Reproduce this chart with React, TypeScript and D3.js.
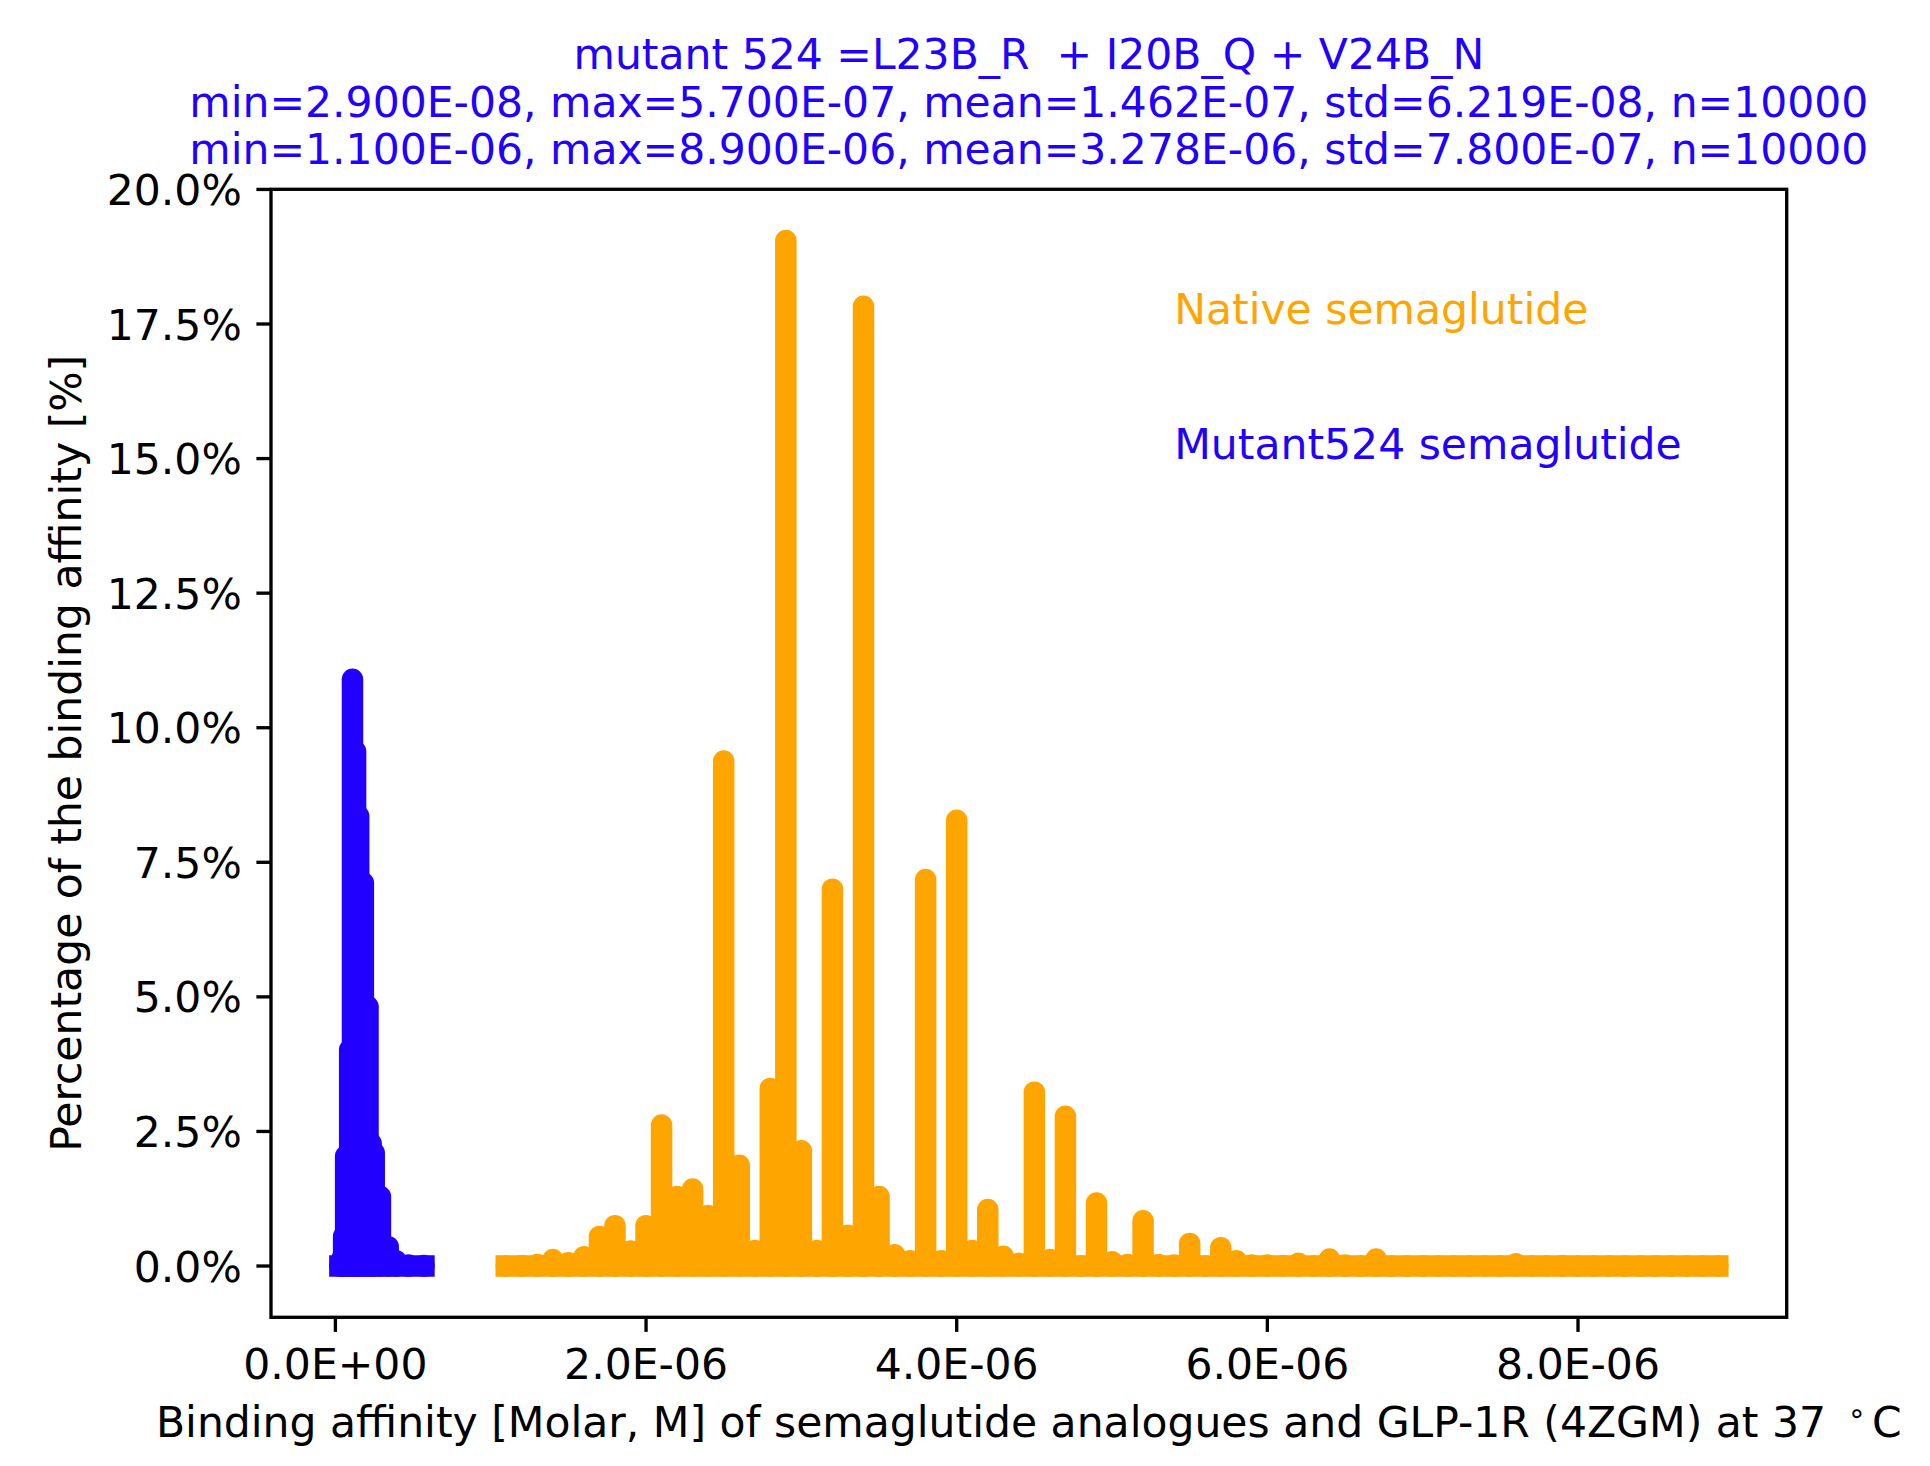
import React from "react";
import * as d3 from "d3";

// ---- data ----
// Mutant 524 semaglutide: binding affinity values [M] and share of samples [%]
const mutantAffinity = [
  2.9e-8, 4.5e-8, 5.3e-8, 6.6e-8, 9.2e-8, 1.1e-7, 1.3e-7, 1.5e-7, 1.8e-7,
  2.1e-7, 2.3e-7, 2.5e-7, 2.9e-7, 3.4e-7, 3.9e-7, 4.7e-7, 5.7e-7,
];
const mutantPercent = [
  0.0, 0.15, 0.55, 2.04, 4.02, 10.9, 9.56, 8.36, 7.12,
  4.82, 2.28, 2.1, 1.29, 0.36, 0.1, 0.02, 0.01,
];

// Native semaglutide
const nativeAffinity = [
  1.1e-6, 1.2e-6, 1.3e-6, 1.4e-6, 1.5e-6, 1.6e-6, 1.7e-6, 1.8e-6, 1.9e-6, 2.0e-6,
  2.1e-6, 2.2e-6, 2.3e-6, 2.4e-6, 2.5e-6, 2.6e-6, 2.7e-6, 2.8e-6, 2.9e-6, 3.0e-6,
  3.1e-6, 3.2e-6, 3.3e-6, 3.4e-6, 3.5e-6, 3.6e-6, 3.7e-6, 3.8e-6, 3.9e-6, 4.0e-6,
  4.1e-6, 4.2e-6, 4.3e-6, 4.4e-6, 4.5e-6, 4.6e-6, 4.7e-6, 4.8e-6, 4.9e-6, 5.0e-6,
  5.1e-6, 5.2e-6, 5.3e-6, 5.4e-6, 5.5e-6, 5.6e-6, 5.7e-6, 5.8e-6, 5.9e-6, 6.0e-6,
  6.1e-6, 6.2e-6, 6.3e-6, 6.4e-6, 6.5e-6, 6.6e-6, 6.7e-6, 6.8e-6, 6.9e-6, 7.0e-6,
  7.1e-6, 7.2e-6, 7.3e-6, 7.4e-6, 7.5e-6, 7.6e-6, 7.7e-6, 7.8e-6, 7.9e-6, 8.0e-6,
  8.1e-6, 8.2e-6, 8.3e-6, 8.4e-6, 8.5e-6, 8.6e-6, 8.7e-6, 8.8e-6, 8.9e-6,
];
const nativePercent = [
  0.0, 0.01, 0.03, 0.12, 0.06, 0.17, 0.55, 0.75, 0.28, 0.75,
  2.62, 1.29, 1.43, 0.94, 9.38, 1.87, 0.29, 3.3, 19.05, 2.14,
  0.29, 7.0, 0.57, 17.83, 1.29, 0.21, 0.1, 7.18, 0.1, 8.28,
  0.29, 1.05, 0.18, 0.05, 3.23, 0.12, 2.78, 0.0, 1.17, 0.08,
  0.03, 0.84, 0.03, 0.02, 0.42, 0.0, 0.34, 0.1, 0.02, 0.02,
  0.01, 0.05, 0.0, 0.13, 0.02, 0.0, 0.13, 0.0, 0.0, 0.0,
  0.0, 0.0, 0.0, 0.0, 0.0, 0.04, 0.0, 0.0, 0.01, 0.0,
  0.0, 0.0, 0.0, 0.0, 0.0, 0.0, 0.0, 0.0, 0.0,
];

const titleLines = [
  "mutant 524 =L23B_R  + I20B_Q + V24B_N",
  "min=2.900E-08, max=5.700E-07, mean=1.462E-07, std=6.219E-08, n=10000",
  "min=1.100E-06, max=8.900E-06, mean=3.278E-06, std=7.800E-07, n=10000",
];
const nativeLabel = "Native semaglutide";
const mutantLabel = "Mutant524 semaglutide";
const labelX = 5.4e-6;
const nativeLabelY = 17.5;
const mutantLabelY = 15.0;
const yTickValues = [0, 2.5, 5, 7.5, 10, 12.5, 15, 17.5, 20];

// ---- styling ----
const W = 1930;
const H = 1466;
const AX = { left: 271, right: 1786.7, top: 189.3, bottom: 1317.3 };
const FONT = "DejaVu Sans, Liberation Sans, sans-serif";
const FS = 42.5;
const ORANGE = "#ffa500";
const BLUE = "#2200ff";
const LW = 21.5;
const SPINE = 3.33;
const TICK = 14.6;
const PAD = 14.6;

function fmtE(v: number): string {
  if (v === 0) return "0.0E+00";
  const e = Math.floor(Math.log10(Math.abs(v)) + 1e-9);
  const m = v / Math.pow(10, e);
  const es = (e < 0 ? "-" : "+") + String(Math.abs(e)).padStart(2, "0");
  return m.toFixed(1) + "E" + es;
}

export default function App() {
  const allX = [...mutantAffinity, ...nativeAffinity];
  const [xmin, xmax] = d3.extent(allX) as [number, number];
  const xpad = 0.05 * (xmax - xmin);
  const x = d3
    .scaleLinear()
    .domain([xmin - xpad, xmax + xpad])
    .range([AX.left, AX.right]);

  const allY = [...mutantPercent, ...nativePercent];
  const [ymin, ymax] = d3.extent(allY) as [number, number];
  const ypad = 0.05 * (ymax - ymin);
  const y = d3
    .scaleLinear()
    .domain([ymin - ypad, ymax + ypad])
    .range([AX.bottom, AX.top]);

  const xTicks = x.ticks(5);
  const yFmt = (v: number) => d3.format(".1f")(v) + "%";
  const cx = (AX.left + AX.right) / 2;
  const cy = (AX.top + AX.bottom) / 2;

  const series = [
    { xs: nativeAffinity, ys: nativePercent, color: ORANGE, key: "native" },
    { xs: mutantAffinity, ys: mutantPercent, color: BLUE, key: "mutant" },
  ];

  return (
    <svg
      width={W}
      height={H}
      viewBox={`0 0 ${W} ${H}`}
      style={{ position: "absolute", left: 0, top: 0, background: "#fff" }}
      fontFamily={FONT}
    >
      <rect x={0} y={0} width={W} height={H} fill="#fff" />

      {/* series */}
      {series.map((s) => {
        const [lo, hi] = d3.extent(s.xs) as [number, number];
        return (
          <g key={s.key} stroke={s.color} strokeWidth={LW}>
            <line
              x1={x(lo)}
              x2={x(hi)}
              y1={y(0)}
              y2={y(0)}
              strokeLinecap="square"
            />
            {s.xs.map((xv, i) => (
              <line
                key={i}
                x1={x(xv)}
                x2={x(xv)}
                y1={y(0)}
                y2={y(s.ys[i]) - 0.01}
                strokeLinecap="round"
              />
            ))}
          </g>
        );
      })}

      {/* annotations */}
      <text x={x(labelX)} y={y(nativeLabelY)} fontSize={FS} fill={ORANGE}>
        {nativeLabel}
      </text>
      <text x={x(labelX)} y={y(mutantLabelY)} fontSize={FS} fill={BLUE}>
        {mutantLabel}
      </text>

      {/* spines */}
      <rect
        x={AX.left}
        y={AX.top}
        width={AX.right - AX.left}
        height={AX.bottom - AX.top}
        fill="none"
        stroke="#000"
        strokeWidth={SPINE}
      />

      {/* y ticks */}
      {yTickValues
        .filter((v) => v >= y.domain()[0] - 1e-6 && v <= y.domain()[1] + 1e-6)
        .map((v) => (
          <g key={v}>
            <line
              x1={AX.left - TICK}
              x2={AX.left}
              y1={y(v)}
              y2={y(v)}
              stroke="#000"
              strokeWidth={SPINE}
            />
            <text
              x={AX.left - TICK - PAD}
              y={y(v) + 15.5}
              fontSize={FS}
              textAnchor="end"
              fill="#000"
            >
              {yFmt(v)}
            </text>
          </g>
        ))}

      {/* x ticks */}
      {xTicks.map((v) => (
        <g key={v}>
          <line
            x1={x(v)}
            x2={x(v)}
            y1={AX.bottom}
            y2={AX.bottom + TICK}
            stroke="#000"
            strokeWidth={SPINE}
          />
          <text
            x={x(v)}
            y={AX.bottom + TICK + PAD + 32}
            fontSize={FS}
            textAnchor="middle"
            fill="#000"
          >
            {fmtE(v)}
          </text>
        </g>
      ))}

      {/* axis labels */}
      <text x={cx} y={1437} fontSize={FS} textAnchor="middle" fill="#000">
        {"Binding affinity [Molar, M] of semaglutide analogues and GLP-1R (4ZGM) at 37 "}
        <tspan dx={8} dy={-14} fontSize={29.5}>
          {"∘"}
        </tspan>
        <tspan dx={6} dy={14}>
          {"C"}
        </tspan>
      </text>
      <text
        transform={`translate(81,${cy}) rotate(-90)`}
        fontSize={FS}
        textAnchor="middle"
        fill="#000"
      >
        Percentage of the binding affinity [%]
      </text>

      {/* title */}
      {titleLines.map((t, i) => (
        <text
          key={i}
          x={cx}
          y={AX.top - 25 - (titleLines.length - 1 - i) * 47.5}
          fontSize={FS}
          textAnchor="middle"
          fill={BLUE}
          style={{ whiteSpace: "pre" }}
        >
          {t}
        </text>
      ))}
    </svg>
  );
}
